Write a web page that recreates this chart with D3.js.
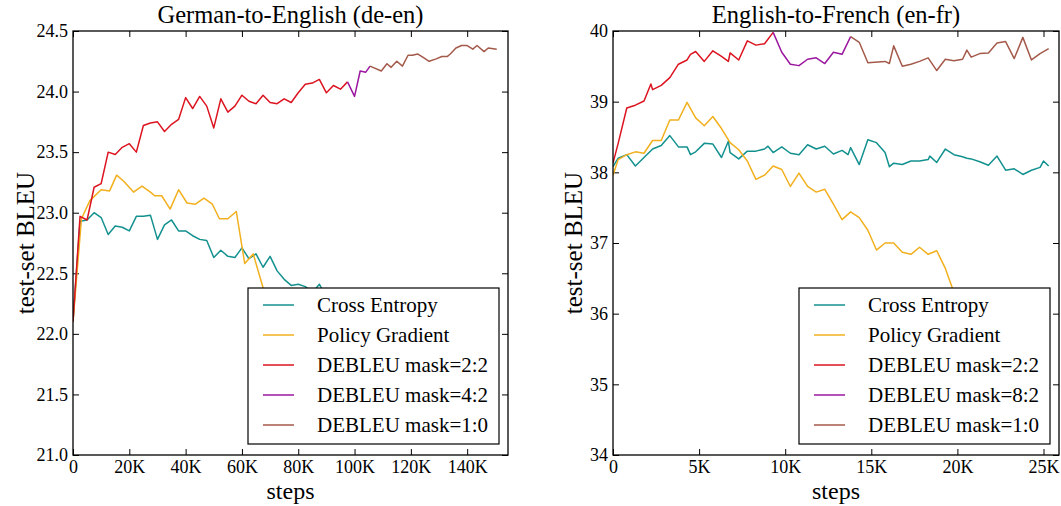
<!DOCTYPE html>
<meta charset="utf-8">
<head>
  <title>DEBLEU training curves</title>
  <script src="https://d3js.org/d3.v7.min.js"></script>
  <style>
    body { margin: 0; background: #fff; }
    .frame { fill: none; stroke: #000; stroke-width: 1.3; }
    .tick line { stroke: #000; stroke-width: 1; }
    .domain { display: none; }
    .curve { fill: none; stroke-width: 1.5; stroke-linejoin: round; }
  </style>
</head>
<body>
<script>
// ---- German-to-English (steps in thousands) ----
var deStepsCE = [0, 2.5, 5, 7.5, 10, 12.5, 15, 17.5, 20, 22.5, 25, 27.5, 30, 32.5, 35, 37.5, 40, 42.5, 45, 47.5,
  50, 52.5, 55, 57.5, 60, 62.5, 65, 67.5, 70, 72.5, 75, 77.5, 80, 82.5, 85, 87.5, 90];
var deCE = [22.1, 22.93, 22.94, 23.0, 22.96, 22.82, 22.89, 22.88, 22.85, 22.97, 22.97, 22.98, 22.78, 22.9, 22.94, 22.85,
  22.85, 22.81, 22.78, 22.77, 22.63, 22.69, 22.64, 22.63, 22.71, 22.62, 22.66, 22.55, 22.64, 22.52, 22.45, 22.4,
  22.41, 22.39, 22.34, 22.41, 22.3];

var deStepsPG = [0, 3, 6, 10, 13, 15.5, 18, 21.5, 24.5, 27.5, 29, 31.5, 34.5, 37.5, 40.5, 43.5, 46.5, 49.5, 52, 55,
  58, 61, 64, 67.5, 70, 73];
var dePG = [22.1, 22.95, 23.1, 23.19, 23.18, 23.31, 23.26, 23.17, 23.22, 23.17, 23.14, 23.14, 23.03, 23.19, 23.08,
  23.07, 23.12, 23.07, 22.95, 22.95, 23.01, 22.58, 22.66, 22.38, 22.2, 22.05];

var deSteps22 = [0, 2.5, 5, 7.5, 10, 12.5, 15, 17.5, 20, 22.5, 25, 27.5, 30, 32.5, 35, 37.5, 40, 42.5, 45, 47.5,
  50, 52.5, 55, 57.5, 60, 62.5, 65, 67.5, 70, 72.5, 75, 77.5, 80, 82.5, 85, 87.5, 90, 92.5, 95, 97.5];
var de22 = [22.1, 22.97, 22.94, 23.21, 23.24, 23.5, 23.48, 23.54, 23.57, 23.5, 23.72, 23.74, 23.75, 23.67, 23.73,
  23.77, 23.95, 23.86, 23.96, 23.88, 23.7, 23.94, 23.83, 23.88, 23.97, 23.92, 23.9, 23.97, 23.91, 23.9, 23.94,
  23.91, 23.99, 24.06, 24.07, 24.1, 23.99, 24.05, 24.02, 24.08];

var deSteps42 = [97.5, 100, 102, 104, 105.5];
var de42 = [24.08, 23.96, 24.17, 24.16, 24.21];

var deSteps10 = [105.5, 109.5, 111.5, 113, 115, 117, 119, 120.5, 122.5, 124.5, 126.5, 129, 131, 133, 134, 136, 138,
  140, 142, 143.5, 146, 147.5, 150.5];
var de10 = [24.21, 24.17, 24.23, 24.2, 24.25, 24.21, 24.3, 24.3, 24.31, 24.28, 24.25, 24.27, 24.29, 24.29, 24.31,
  24.36, 24.38, 24.38, 24.35, 24.38, 24.33, 24.36, 24.35];

// ---- English-to-French (steps in thousands) ----
var frStepsCE = [0, 0.3, 0.8, 1.3, 1.8, 2.3, 2.8, 3.3, 3.8, 4.3, 4.5, 4.8, 5.3, 5.8, 6.3, 6.7, 6.8, 7.3, 7.8, 8.3,
  8.8, 9.0, 9.3, 9.8, 10.3, 10.8, 11.3, 11.8, 12.3, 12.8, 13.3, 13.65, 13.8, 14.3, 14.8, 15.3, 15.8, 16.05, 16.3,
  16.8, 17.3, 17.8, 18.3, 18.4, 18.8, 19.3, 19.8, 20.3, 20.55, 20.8, 21.3, 21.8, 22.3, 22.8, 23.3, 23.8, 24.3,
  24.8, 25.0, 25.3];
var frCE = [38.08, 38.2, 38.25, 38.09, 38.21, 38.33, 38.38, 38.52, 38.36, 38.36, 38.25, 38.29, 38.41, 38.4, 38.21,
  38.44, 38.28, 38.19, 38.3, 38.3, 38.33, 38.37, 38.28, 38.36, 38.27, 38.25, 38.39, 38.33, 38.37, 38.26, 38.31,
  38.25, 38.35, 38.11, 38.46, 38.42, 38.28, 38.08, 38.13, 38.11, 38.16, 38.16, 38.18, 38.23, 38.14, 38.33, 38.25,
  38.22, 38.2, 38.19, 38.15, 38.1, 38.23, 38.03, 38.05, 37.97, 38.03, 38.07, 38.16, 38.09];

var frStepsPG = [0, 0.3, 0.8, 1.3, 1.8, 2.3, 2.8, 3.3, 3.8, 4.3, 4.8, 5.3, 5.8, 6.3, 6.8, 7.3, 7.8, 8.3, 8.8, 9.3,
  9.8, 10.3, 10.8, 11.3, 11.8, 12.3, 12.8, 13.3, 13.8, 14.3, 14.8, 15.3, 15.8, 16.3, 16.8, 17.3, 17.8, 18.3, 18.8,
  19.3, 19.8, 20.3, 20.8];
var frPG = [37.96, 38.18, 38.25, 38.29, 38.27, 38.45, 38.45, 38.74, 38.74, 38.99, 38.77, 38.66, 38.79, 38.62, 38.42,
  38.32, 38.16, 37.9, 37.96, 38.09, 38.04, 37.8, 37.99, 37.8, 37.72, 37.76, 37.55, 37.33, 37.44, 37.36, 37.18,
  36.9, 37.0, 37.0, 36.87, 36.84, 36.94, 36.84, 36.89, 36.64, 36.3, 36.0, 35.8];

var frSteps22 = [0, 0.3, 0.8, 1.3, 1.8, 2.2, 2.3, 2.8, 3.3, 3.8, 4.3, 4.5, 4.8, 5.3, 5.8, 6.3, 6.7, 6.8, 7.3, 7.8,
  8.3, 8.8, 9.3];
var fr22 = [38.13, 38.41, 38.91, 38.95, 39.01, 39.25, 39.17, 39.23, 39.34, 39.53, 39.59, 39.67, 39.71, 39.57, 39.72,
  39.64, 39.57, 39.69, 39.59, 39.86, 39.8, 39.82, 39.98];

var frSteps82 = [9.3, 9.8, 10.3, 10.8, 11.3, 11.8, 12.3, 12.8, 13.3, 13.8];
var fr82 = [39.98, 39.7, 39.53, 39.51, 39.6, 39.62, 39.54, 39.7, 39.67, 39.92];

var frSteps10 = [13.8, 14.3, 14.8, 15.8, 16.05, 16.3, 16.8, 17.3, 17.8, 18.3, 18.8, 19.3, 19.8, 20.3, 20.55, 20.8,
  21.3, 21.8, 22.3, 22.8, 23.3, 23.8, 24.3, 24.8, 25.3];
var fr10 = [39.92, 39.84, 39.55, 39.57, 39.54, 39.79, 39.5, 39.53, 39.57, 39.62, 39.44, 39.6, 39.58, 39.6, 39.73,
  39.63, 39.68, 39.69, 39.83, 39.85, 39.61, 39.91, 39.59, 39.68, 39.75];

var colors = { ce: "#13918f", pg: "#f2b01e", d22: "#dc1420", dmid: "#9b17a0", d10: "#a45a4a" };
var serif = "'Liberation Serif', 'Times New Roman', 'DejaVu Serif', serif";

var width = 1061, height = 506;
var svg = d3.select("body").append("svg")
  .attr("width", width)
  .attr("height", height);

function zip(xs, ys) {
  return xs.map(function(x, i) { return [x, ys[i]]; });
}

function drawPanel(cfg) {
  var top = 31, bottom = 455;
  var x = d3.scaleLinear().domain(cfg.xDomain).range([cfg.left, cfg.right]);
  var y = d3.scaleLinear().domain(cfg.yDomain).range([bottom, top]);
  var g = svg.append("g");

  // axes with inward ticks on all four sides
  g.append("g")
    .attr("transform", "translate(0," + bottom + ")")
    .call(d3.axisBottom(x).tickValues(cfg.xTicks).tickSizeInner(-6).tickSizeOuter(0).tickPadding(5)
      .tickFormat(function(d) { return d === 0 ? "0" : d + "K"; }));
  g.append("g")
    .attr("transform", "translate(0," + top + ")")
    .call(d3.axisTop(x).tickValues(cfg.xTicks).tickSizeInner(-6).tickSizeOuter(0).tickFormat(""));
  g.append("g")
    .attr("transform", "translate(" + cfg.left + ",0)")
    .call(d3.axisLeft(y).tickValues(cfg.yTicks).tickSizeInner(-6).tickSizeOuter(0).tickPadding(5)
      .tickFormat(d3.format(cfg.yFormat)));
  g.append("g")
    .attr("transform", "translate(" + cfg.right + ",0)")
    .call(d3.axisRight(y).tickValues(cfg.yTicks).tickSizeInner(-6).tickSizeOuter(0).tickFormat(""));
  g.selectAll(".tick text").style("font-size", "18px").attr("fill", "#000");

  var clipId = "clip" + cfg.left;
  svg.append("clipPath").attr("id", clipId)
    .append("rect").attr("x", cfg.left).attr("y", top)
    .attr("width", cfg.right - cfg.left).attr("height", bottom - top);

  var line = d3.line().x(function(d) { return x(d[0]); }).y(function(d) { return y(d[1]); });
  g.append("g").attr("clip-path", "url(#" + clipId + ")")
    .selectAll("path")
    .data(cfg.series)
    .enter().append("path")
    .attr("class", "curve")
    .attr("stroke", function(d) { return d.color; })
    .attr("d", function(d) { return line(d.points); });

  g.append("rect").attr("class", "frame")
    .attr("x", cfg.left).attr("y", top)
    .attr("width", cfg.right - cfg.left).attr("height", bottom - top);

  // titles and labels
  var cx = (cfg.left + cfg.right) / 2;
  g.append("text").attr("x", cx).attr("y", 23)
    .attr("text-anchor", "middle").style("font-size", "24.5px")
    .text(cfg.title);
  g.append("text").attr("x", cx).attr("y", 499)
    .attr("text-anchor", "middle").style("font-size", "24px")
    .text("steps");
  g.append("text")
    .attr("transform", "translate(" + cfg.ylabelX + "," + ((top + bottom) / 2) + ") rotate(-90)")
    .attr("text-anchor", "middle").style("font-size", "25px")
    .text("test-set BLEU");

  // legend, lower right
  var lw = 251, lh = 156;
  var lx = cfg.right - 9 - lw, ly = bottom - 11 - lh;
  var leg = g.append("g").attr("transform", "translate(" + lx + "," + ly + ")");
  leg.append("rect").attr("width", lw).attr("height", lh)
    .attr("fill", "#fff").attr("stroke", "#000").attr("stroke-width", 1.2);
  var items = leg.selectAll("g.item")
    .data(cfg.series)
    .enter().append("g")
    .attr("transform", function(d, i) { return "translate(0," + (17 + i * 30) + ")"; });
  items.append("line")
    .attr("x1", 15).attr("x2", 46)
    .attr("stroke", function(d) { return d.color; })
    .attr("stroke-width", 1.5);
  items.append("text")
    .attr("x", 69).attr("y", 7)
    .style("font-size", "21px")
    .text(function(d) { return d.label; });
}

drawPanel({
  title: "German-to-English (de-en)",
  left: 73, right: 508, ylabelX: 34,
  xDomain: [0, 154.5], yDomain: [21, 24.5],
  xTicks: [0, 20, 40, 60, 80, 100, 120, 140],
  yTicks: [21, 21.5, 22, 22.5, 23, 23.5, 24, 24.5], yFormat: ".1f",
  series: [
    { label: "Cross Entropy", color: colors.ce, points: zip(deStepsCE, deCE) },
    { label: "Policy Gradient", color: colors.pg, points: zip(deStepsPG, dePG) },
    { label: "DEBLEU mask=2:2", color: colors.d22, points: zip(deSteps22, de22) },
    { label: "DEBLEU mask=4:2", color: colors.dmid, points: zip(deSteps42, de42) },
    { label: "DEBLEU mask=1:0", color: colors.d10, points: zip(deSteps10, de10) }
  ]
});

drawPanel({
  title: "English-to-French (en-fr)",
  left: 613, right: 1059, ylabelX: 582,
  xDomain: [0, 25.9], yDomain: [34, 40],
  xTicks: [0, 5, 10, 15, 20, 25],
  yTicks: [34, 35, 36, 37, 38, 39, 40], yFormat: "d",
  series: [
    { label: "Cross Entropy", color: colors.ce, points: zip(frStepsCE, frCE) },
    { label: "Policy Gradient", color: colors.pg, points: zip(frStepsPG, frPG) },
    { label: "DEBLEU mask=2:2", color: colors.d22, points: zip(frSteps22, fr22) },
    { label: "DEBLEU mask=8:2", color: colors.dmid, points: zip(frSteps82, fr82) },
    { label: "DEBLEU mask=1:0", color: colors.d10, points: zip(frSteps10, fr10) }
  ]
});

// serif type everywhere
svg.selectAll("text").style("font-family", serif);
svg.selectAll("g").attr("font-family", serif);
</script>
</body>
</html>
